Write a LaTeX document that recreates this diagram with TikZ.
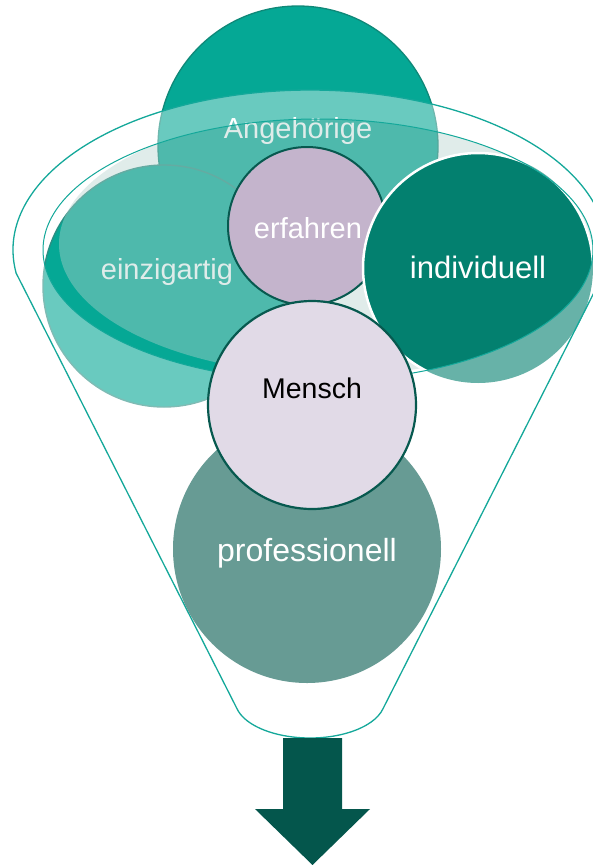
\documentclass[tikz,border=0pt]{standalone}
\usepackage{fontspec}
\setmainfont{Liberation Sans}
\definecolor{tuerkis}{HTML}{05A895}
\definecolor{tiefgruen}{HTML}{03806F}
\definecolor{graugruen}{HTML}{679B94}
\definecolor{flieder}{HTML}{C4B4CC}
\definecolor{hellflieder}{HTML}{E1DAE7}
\definecolor{randgruen}{HTML}{07594F}
\definecolor{randA}{HTML}{0F8878}
\definecolor{randB}{HTML}{2A8F83}
\definecolor{linie}{HTML}{14A89A}
\definecolor{pfeil}{HTML}{04564C}
\definecolor{schale}{RGB}{181,210,205}
% Umriss des Trichters
\newcommand{\trichterweg}{([shift={(171.7:297 and 160)}]310,250) arc[start angle=171.7,end angle=368.3,x radius=297,y radius=160] -- ([shift={(13:75 and 38)}]310,700) arc[start angle=13,end angle=167,x radius=75,y radius=38] -- cycle}
\newcommand{\oeffnung}{(318,250) ellipse[x radius=275,y radius=131]}
\begin{document}
\begin{tikzpicture}[x=1pt,y=-1pt,line join=round,line cap=round,
    kreis/.style={circle,inner sep=0pt,minimum size=#1},
    txt/.style={anchor=base,inner sep=0pt,text=white,font=\fontsize{29}{34}\selectfont}]
    \clip (0,0) rectangle (593,865);
    %Angehörige
    \node[kreis=280pt,fill=tuerkis,draw=randA,line width=1.3pt] (ang) at (298,146) {};
    \node[txt] (t-ang) at (298,138) {Angehörige};
    %einzigartig
    \node[kreis=242pt,fill=tuerkis,draw=randB,line width=1.4pt] (einz) at (164,286) {};
    \node[txt] (t-einz) at (167,279) {einzigartig};
    %Öffnung innen
    \begin{scope}
        \clip \oeffnung;
        \fill[schale,opacity=.42] (334,244) ellipse[x radius=275,y radius=131];
    \end{scope}
    %erfahren
    \node[kreis=158pt,fill=flieder,draw=randgruen,line width=2pt] (erf) at (307,226) {};
    \node[txt] (t-erf) at (308,238) {erfahren};
    %individuell
    \node[kreis=230pt,fill=tiefgruen] (ind) at (478,268) {};
    \begin{scope}
        \clip \oeffnung;
        \draw[white,line width=2.5pt] (ind.center) circle[radius=115];
    \end{scope}
    \node[txt,font=\fontsize{31}{36}\selectfont] (t-ind) at (478,278) {individuell};
    %Trichter
    \fill[white,opacity=.4,even odd rule] \trichterweg \oeffnung;
    \draw[linie,line width=1.3pt] \trichterweg;
    \draw[linie,line width=1pt] \oeffnung;
    %professionell
    \node[kreis=268pt,fill=graugruen] (prof) at (307,549) {};
    \node[txt,font=\fontsize{32}{38}\selectfont] (t-prof) at (307,561) {professionell};
    %Mensch
    \node[kreis=208pt,fill=hellflieder,draw=randgruen,line width=2.2pt] (mensch) at (312,405) {};
    \node[txt,text=black,font=\fontsize{28.5}{34}\selectfont] (t-mensch) at (312,398) {Mensch};
    %Pfeil
    \fill[pfeil] (283,738) -- (342,738) -- (342,809) -- (370,809) -- (312.5,865) -- (255,809) -- (283,809) -- cycle;
\end{tikzpicture}
\end{document}
